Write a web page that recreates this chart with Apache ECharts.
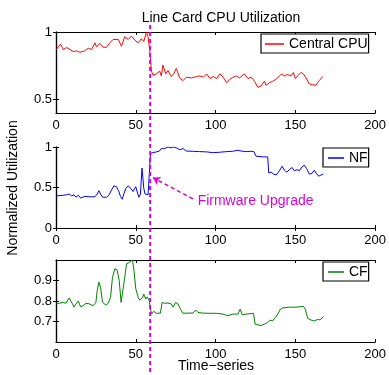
<!DOCTYPE html>
<html>
<head>
<meta charset="utf-8">
<script src="https://cdn.jsdelivr.net/npm/echarts@6/dist/echarts.min.js"></script>
<style>html,body{margin:0;padding:0;background:#fff}#c{width:389px;height:375px}</style>
</head>
<body>
<div id="c"></div>
<script>
var xTicks = [0, 50, 100, 150, 200];
var firmwareT = 59;

var cpuT = [0,2.8,4.6,6.7,8.75,10.8,12.9,15,18,20.2,22.3,24.4,25.4,27.5,29.6,31.7,33.75,35.8,39,41,43.1,45.2,47.3,49.4,51.5,53.5,55,56.7,57.7,58.75,59.8,60.8,62.9,65,66,67,68.75,70.2,72.3,73.75,75.4,77.5,79.6,81.7,84.8,88,90,92.3,94.4,96.5,98.6,100.7,102.7,104.8,106.9,109,111,113,115,118,120.2,122.3,124.4,126.5,128.5,130.6,131.7,133.75,135.8,138,140,141.7,143,145,147.3,148.75,150,151.5,153.5,155,156.7,158.75,160.8,162.9,164,165,167];
var cpuV = [0.868,0.91,0.87,0.885,0.87,0.855,0.86,0.85,0.86,0.88,0.87,0.92,0.89,0.916,0.887,0.887,0.92,0.945,0.945,0.895,0.965,0.945,0.97,0.94,0.92,0.95,0.93,1.0,0.965,0.86,0.71,0.68,0.69,0.71,0.675,0.755,0.69,0.715,0.67,0.69,0.73,0.66,0.64,0.665,0.66,0.67,0.675,0.665,0.69,0.655,0.67,0.655,0.69,0.665,0.625,0.65,0.665,0.675,0.66,0.69,0.655,0.665,0.635,0.59,0.60,0.635,0.605,0.625,0.635,0.65,0.675,0.69,0.675,0.685,0.675,0.70,0.655,0.675,0.70,0.69,0.66,0.615,0.61,0.605,0.625,0.64,0.67];

var nfT = [0,4.6,6.7,8.3,9.8,11.25,12.5,14,15.4,18,21.25,24.4,25.8,26.9,27.9,29.2,31.7,33.3,34.8,36.25,37.9,39.2,40.4,41.5,42.5,43.75,45.2,46.9,48.3,50,51.25,52,52.9,53.9,55,55.8,57.7,58.3,59.2,60.8,62.9,64.6,66,68.1,70.2,72.3,73.75,75.4,77.5,79.6,81.7,85.8,90,94.2,98.3,102.5,106.7,110.8,114,115,116,119.2,122.3,124,125.4,129.6,132.7,133.3,134.8,136.25,138,140,141.7,143.1,144.6,146.25,147.9,149.4,151,152.5,154.2,155.6,157,158.75,160.4,161.9,162.9,164.6,166,167.5];
var nfV = [0.396,0.404,0.41,0.42,0.396,0.41,0.38,0.404,0.37,0.39,0.385,0.385,0.42,0.46,0.42,0.38,0.38,0.41,0.47,0.52,0.51,0.46,0.39,0.355,0.42,0.49,0.52,0.49,0.45,0.51,0.42,0.38,0.42,0.74,0.49,0.42,0.41,0.42,0.92,0.93,0.94,0.947,0.98,0.98,1.0,0.99,1.0,0.99,0.967,0.98,0.95,0.947,0.943,0.94,0.93,0.935,0.943,0.947,0.96,0.97,0.95,0.943,0.947,0.943,0.886,0.878,0.878,0.68,0.69,0.665,0.655,0.706,0.763,0.714,0.69,0.72,0.747,0.706,0.72,0.706,0.755,0.776,0.735,0.665,0.673,0.714,0.68,0.64,0.653,0.665];

var cfT = [0,2.1,4.6,6.25,7,8.3,9.2,10.4,11.25,12.5,14,15.4,17,18.75,21.25,23.3,25,25.8,26.9,27.9,29.2,31.25,32.7,34.2,35.4,36.9,38.3,39.6,40.8,42,43.1,44.2,45.6,46.7,47.9,48.75,50,51.5,52.5,54.2,55,56.25,57.1,58.3,59.2,59.8,61.25,62.9,65.4,66.5,68.1,70.2,72.3,73.3,75,76.5,78,79.6,82.7,85.8,87.5,89,92,96.25,100.4,104.6,107.7,110.8,114,115.4,116.7,119.2,123.75,124.8,126.5,128.5,130.6,132.7,134.2,135.8,137.5,139,140.6,142,146.25,150.4,155,156.25,157.7,159.8,161.9,164,165.4,167.5];
var cfV = [0.785,0.789,0.793,0.789,0.80,0.815,0.80,0.785,0.77,0.785,0.80,0.772,0.777,0.789,0.785,0.777,0.793,0.85,0.892,0.867,0.793,0.78,0.789,0.818,0.916,0.957,0.952,0.90,0.793,0.80,0.916,0.982,0.987,0.982,1.0,0.957,0.86,0.818,0.805,0.815,0.834,0.81,0.82,0.805,0.80,0.736,0.75,0.74,0.741,0.793,0.789,0.79,0.785,0.77,0.793,0.785,0.76,0.74,0.741,0.741,0.756,0.744,0.741,0.74,0.74,0.736,0.728,0.736,0.736,0.76,0.733,0.736,0.74,0.687,0.684,0.68,0.687,0.695,0.707,0.703,0.72,0.736,0.76,0.766,0.77,0.77,0.774,0.76,0.716,0.707,0.703,0.71,0.708,0.723];

var cpuTicks = [0.5, 1];
var nfTicks = [0, 0.5, 1];
var cfTicks = [0.7, 0.8, 0.9];

function pairs(t, v) { return t.map(function (x, i) { return [x, v[i]]; }); }

var FONT = "'Liberation Sans', Arial, Helvetica, sans-serif";
var MAG = '#dd00dd';
var grids = [
  {left: 56, right: 13, top: 32, height: 81},
  {left: 56, right: 13, top: 147, height: 81},
  {left: 56, right: 13, top: 260, height: 82}
];
var yRanges = [[0.4, 1.0, cpuTicks], [0, 1, nfTicks], [0.6, 1.0, cfTicks]];

var xAxes = [], yAxes = [];
function lineStyleAx() { return {show: true, lineStyle: {color: '#000', width: 1.2}}; }
for (var g = 0; g < 3; g++) {
  xAxes.push({type: 'value', gridIndex: g, position: 'bottom', min: 0, max: 200, interval: 50,
    axisLine: lineStyleAx(), axisTick: {show: true, inside: true, length: 3, lineStyle: {color: '#000'}},
    axisLabel: {color: '#000', fontSize: 13, fontFamily: FONT, margin: 6, showMinLabel: true, showMaxLabel: true},
    splitLine: {show: false}});
}
for (var g2 = 0; g2 < 3; g2++) {
  xAxes.push({type: 'value', gridIndex: g2, position: 'top', min: 0, max: 200, interval: 50,
    axisLine: lineStyleAx(), axisTick: {show: true, inside: true, length: 3, lineStyle: {color: '#000'}},
    axisLabel: {show: false}, splitLine: {show: false}});
}
for (var g3 = 0; g3 < 3; g3++) {
  var r = yRanges[g3];
  yAxes.push({type: 'value', gridIndex: g3, position: 'left', min: r[0], max: r[1],
    axisLine: lineStyleAx(),
    axisTick: {show: true, inside: true, length: 3, customValues: r[2], lineStyle: {color: '#000'}},
    axisLabel: {color: '#000', fontSize: 13, fontFamily: FONT, margin: 4, customValues: r[2],
      formatter: function (v) { return String(Math.round(v * 10) / 10); }},
    splitLine: {show: false}});
}
for (var g4 = 0; g4 < 3; g4++) {
  var r2 = yRanges[g4];
  yAxes.push({type: 'value', gridIndex: g4, position: 'right', min: r2[0], max: r2[1],
    axisLine: lineStyleAx(),
    axisTick: {show: true, inside: true, length: 3, customValues: r2[2], lineStyle: {color: '#000'}},
    axisLabel: {show: false}, splitLine: {show: false}});
}

function legend(name, left, top, itemWidth, padding) {
  return {data: [{name: name, icon: 'rect'}], left: left, top: top, orient: 'horizontal',
    itemWidth: itemWidth, itemHeight: 1.5,
    padding: padding, borderColor: '#000', borderWidth: 1.2, borderRadius: 0, backgroundColor: '#fff',
    selectedMode: false, textStyle: {color: '#000', fontSize: 14, fontFamily: FONT, lineHeight: 14}};
}

var chart = echarts.init(document.getElementById('c'), null, {renderer: 'canvas'});
chart.setOption({
  animation: false,
  backgroundColor: '#fff',
  title: {text: 'Line Card CPU Utilization', left: 216, top: 6, textAlign: 'center',
    textStyle: {color: '#000', fontSize: 14, fontWeight: 'normal', fontFamily: FONT}},
  grid: grids,
  xAxis: xAxes,
  yAxis: yAxes,
  legend: [
    legend('Central CPU', 261, 34, 19, [3, 1, 2, 4]),
    legend('NF', 323, 148, 16, [3, 1, 2, 5]),
    legend('CF', 323, 262, 16, [3, 1, 2, 5])
  ],
  series: [
    {name: 'Central CPU', type: 'line', xAxisIndex: 0, yAxisIndex: 0, data: pairs(cpuT, cpuV),
      symbol: 'none', lineStyle: {color: '#ff0000', width: 1}, itemStyle: {color: '#ff0000'}},
    {name: 'NF', type: 'line', xAxisIndex: 1, yAxisIndex: 1, data: pairs(nfT, nfV),
      symbol: 'none', lineStyle: {color: '#0000ff', width: 1}, itemStyle: {color: '#0000ff'},
      markLine: {silent: true, symbol: ['none', 'arrow'], symbolSize: 7, animation: false,
        label: {show: false}, lineStyle: {color: MAG, width: 1.5, type: [4, 3]},
        data: [[{coord: [85.8, 0.36]}, {coord: [60.8, 0.62]}]]}},
    {name: 'CF', type: 'line', xAxisIndex: 2, yAxisIndex: 2, data: pairs(cfT, cfV),
      symbol: 'none', lineStyle: {color: '#008000', width: 1}, itemStyle: {color: '#008000'}}
  ]
});

var fx = chart.convertToPixel({xAxisIndex: 0}, firmwareT);
var tp = chart.convertToPixel({gridIndex: 1}, [88.75, 0.326]);
chart.setOption({
  graphic: [
    {type: 'line', z: 100, shape: {x1: fx, y1: 25, x2: fx, y2: 375},
      style: {stroke: MAG, lineWidth: 2, lineDash: [4, 3]}},
    {type: 'text', z: 100, x: tp[0], y: tp[1],
      style: {text: 'Firmware Upgrade', fill: MAG, font: '14px ' + FONT, align: 'left', verticalAlign: 'middle'}},
    {type: 'text', z: 100, x: 13, y: 188, rotation: Math.PI / 2,
      style: {text: 'Normalized Utilization', fill: '#000', font: '14px ' + FONT, align: 'center', verticalAlign: 'middle'}},
    {type: 'text', z: 100, x: 216, y: 366,
      style: {text: 'Time\u2212series', fill: '#000', font: '14px ' + FONT, align: 'center', verticalAlign: 'middle'}}
  ]
});
</script>
</body>
</html>
